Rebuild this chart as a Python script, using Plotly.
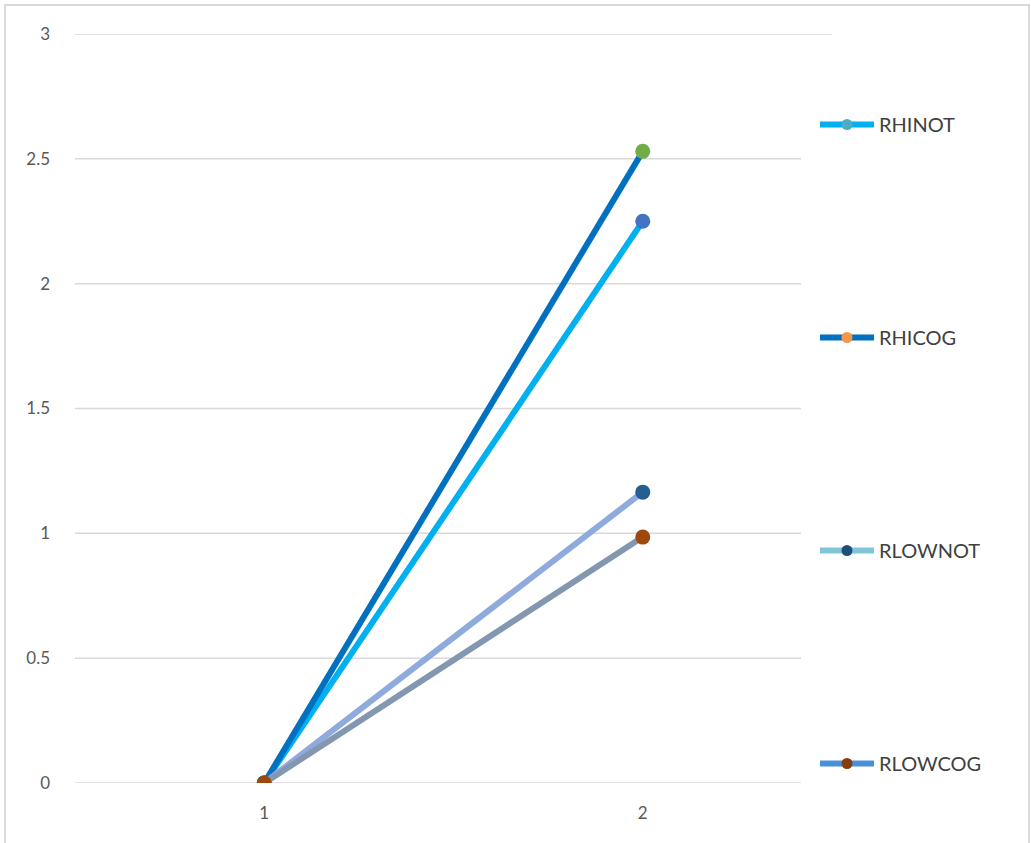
import plotly.graph_objects as go

# Series data
categories = [1, 2]
series_names = ["RHINOT", "RHICOG", "RLOWNOT", "RLOWCOG"]
rhinot = [0, 2.25]
rhicog = [0, 2.53]
rlownot = [0, 1.165]
rlowcog = [0, 0.985]
y_ticks = [0, 0.5, 1, 1.5, 2, 2.5, 3]
y_tick_labels = ["0", "0.5", "1", "1.5", "2", "2.5", "3"]

values = [rhinot, rhicog, rlownot, rlowcog]
line_colors = ["#00B0F0", "#0070C0", "#8FAADC", "#8497B0"]
marker_colors = ["#4472C4", "#70AD47", "#255E91", "#9E480E"]
legend_line_colors = ["#00B0F0", "#0070C0", "#7FC6DB", "#4A8FD9"]
legend_marker_colors = ["#4BACC6", "#F79646", "#1F4E79", "#843C0C"]

fig = go.Figure()

for name, vals, lc, mc in zip(series_names, values, line_colors, marker_colors):
    fig.add_trace(go.Scatter(
        x=categories, y=vals, mode="lines+markers", name=name,
        line=dict(color=lc, width=6),
        marker=dict(color=mc, size=15),
        showlegend=False, hoverinfo="x+y+name",
    ))

# Legend entries
for i, (name, lc, mc) in enumerate(zip(series_names, legend_line_colors, legend_marker_colors)):
    fig.add_trace(go.Scatter(
        x=[None], y=[None], mode="lines+markers", name=name,
        line=dict(color=lc, width=6),
        marker=dict(color=mc, size=11),
        legendgroup=f"g{i}", showlegend=True,
    ))

L, R, T, B = 75, 832, 34, 783
W, H = 1031, 843
pw, ph = R - L, B - T

def px_x(p):
    return (p - L) / pw

def px_y(p):
    return (B - p) / ph

# Horizontal gridlines: the top one spans the full plot width, the rest stop short
shapes = []
for v in y_ticks:
    x1 = 1.0 if v == max(y_ticks) else px_x(801)
    shapes.append(dict(type="line", xref="paper", yref="y", layer="below",
                       x0=0, x1=x1, y0=v, y1=v,
                       line=dict(color="#D9D9D9", width=1.5)))

# chart frame
shapes.append(dict(
    type="path", xref="paper", yref="paper", layer="above",
    path=f"M {px_x(5)},{px_y(850)} L {px_x(5)},{px_y(5)} L {px_x(1029)},{px_y(5)} L {px_x(1029)},{px_y(850)}",
    line=dict(color="#D9D9D9", width=2)))

fig.update_layout(
    width=W, height=H,
    margin=dict(l=L, r=W - R, t=T, b=H - B, pad=0),
    paper_bgcolor="white", plot_bgcolor="white",
    font=dict(family="Lato, Open Sans, sans-serif", color="#595959", size=16),
    xaxis=dict(
        range=[0.5, 2.5], tickvals=categories, ticktext=[str(c) for c in categories],
        showgrid=False, zeroline=False, showline=False, ticks="",
        ticklabelstandoff=18, tickfont=dict(size=17, color="#595959"),
    ),
    yaxis=dict(
        range=[0, 3], tickvals=y_ticks, ticktext=y_tick_labels,
        showgrid=False, zeroline=False, showline=False, ticks="",
        ticklabelstandoff=24, tickfont=dict(size=17, color="#595959"),
    ),
    legend=dict(
        x=px_x(815), y=px_y(105), xanchor="left", yanchor="top",
        bgcolor="rgba(0,0,0,0)", font=dict(size=20, color="#404040"),
        tracegroupgap=184, itemwidth=54,
    ),
    shapes=shapes,
    showlegend=True,
)

fig.write_html("out.html")
